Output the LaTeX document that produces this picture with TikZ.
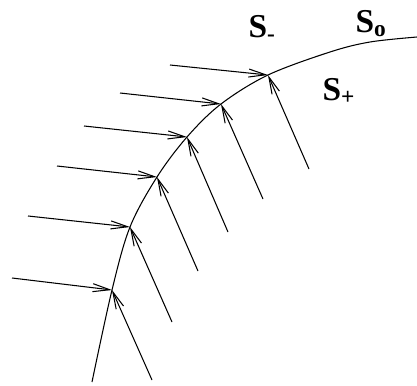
\documentclass[tikz,border=0pt]{standalone}
\usepackage{fontspec}
\setmainfont{Liberation Serif}
\usepackage{tikz}
\usetikzlibrary{arrows.meta}

\begin{document}
\begin{tikzpicture}[
   x=0.02cm, y=-0.02cm, line width=0.6pt,
   flow/.style={-{Straight Barb[length=3.4mm,width=1.6mm]}},
   lbl/.style={font=\fontsize{19}{21}\selectfont\bfseries, inner sep=0pt, anchor=base west}]
  \useasboundingbox (0,0) rectangle (417,386);
  % points on the shock front
  \coordinate (p1) at (112,290);
  \coordinate (p2) at (130,227);
  \coordinate (p3) at (157,177);
  \coordinate (p4) at (187,137);
  \coordinate (p5) at (221,104);
  \coordinate (p6) at (268,75);
  \draw plot[smooth, tension=0.55] coordinates
    {(92,382) (p1) (p2) (p3) (p4) (p5) (p6) (330,52) (370,42) (417,37)};
  % incoming and outgoing flow
  \foreach \i/\hx/\hy/\vx/\vy in {1/12/278/152/380, 2/28/216/172/322,
      3/57/166/198/271, 4/84/126/228/232, 5/120/93/263/199, 6/170/65/309/169} {
    \coordinate (h\i) at (\hx,\hy);
    \coordinate (v\i) at (\vx,\vy);
    \draw[flow] (h\i) -- (p\i);
    \draw[flow] (v\i) -- (p\i);
  }
  \node[lbl] (sm) at (248,37)  {S\textsubscript{-}};
  \node[lbl] (so) at (355,32)  {S\textsubscript{o}};
  \node[lbl] (sp) at (322,100) {S\textsubscript{+}};
\end{tikzpicture}
\end{document}
